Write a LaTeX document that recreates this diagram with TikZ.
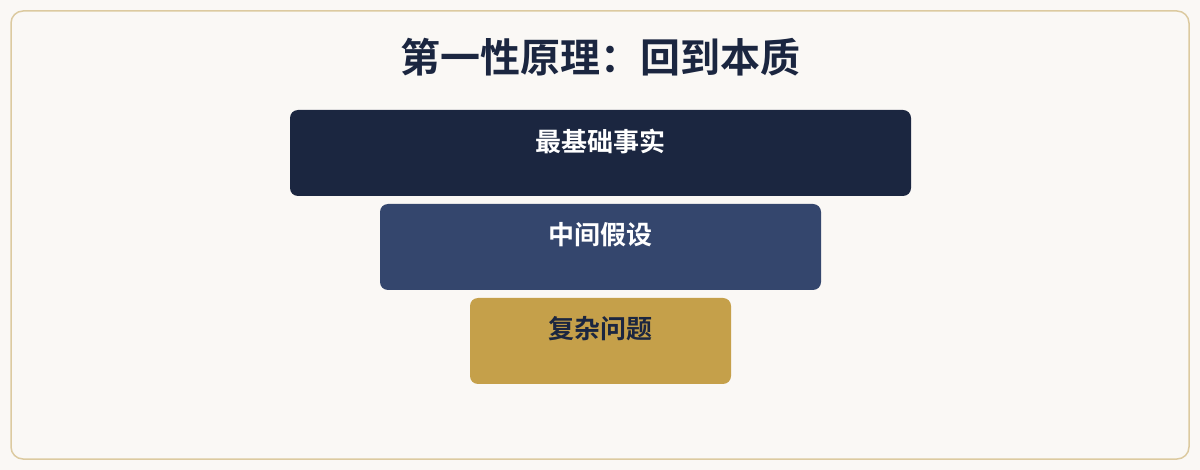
\documentclass[tikz,border=0pt]{standalone}
\usepackage{fontspec}
\setmainfont{Noto Sans CJK SC}[BoldFont={Noto Sans CJK SC Bold}]
\usepackage{tikz}
\usetikzlibrary{positioning}
\definecolor{pagecolor}{RGB}{250, 248, 245}
\definecolor{framecolor}{RGB}{220, 202, 160}
\definecolor{navycolor}{RGB}{27, 38, 64}
\definecolor{slatecolor}{RGB}{52, 70, 109}
\definecolor{goldcolor}{RGB}{197, 160, 74}

\begin{document}
\begin{tikzpicture}[
    x=0.5pt, y=-0.5pt,
    tier/.style={rounded corners=4pt, minimum height=43pt, inner sep=0pt, fill=#1},
    tierlabel/.style={font=\fontsize{13}{15}\selectfont\bfseries, text=#1, inner sep=0pt}
]
    % Page and frame
    \useasboundingbox[fill=pagecolor] (0, 0) rectangle (1200, 470);
    \draw[framecolor, line width=0.75pt, rounded corners=6pt] (11, 11) rectangle (1189, 459);

    % Title
    \node[font=\fontsize{20}{24}\selectfont\bfseries, text=navycolor, inner sep=0pt] (title) at (600, 57) {第一性原理：回到本质};

    % Tiers
    \node[tier=navycolor, minimum width=310.5pt] (facts) at (600.5, 153) {};
    \node[tierlabel=white] (factslabel) at (600, 141) {最基础事实};

    \node[tier=slatecolor, minimum width=220.5pt] (assume) at (600.5, 247) {};
    \node[tierlabel=white] (assumelabel) at (600, 235) {中间假设};

    \node[tier=goldcolor, minimum width=130.5pt] (problem) at (600.5, 341) {};
    \node[tierlabel=navycolor] (problemlabel) at (600, 329) {复杂问题};

\end{tikzpicture}
\end{document}
